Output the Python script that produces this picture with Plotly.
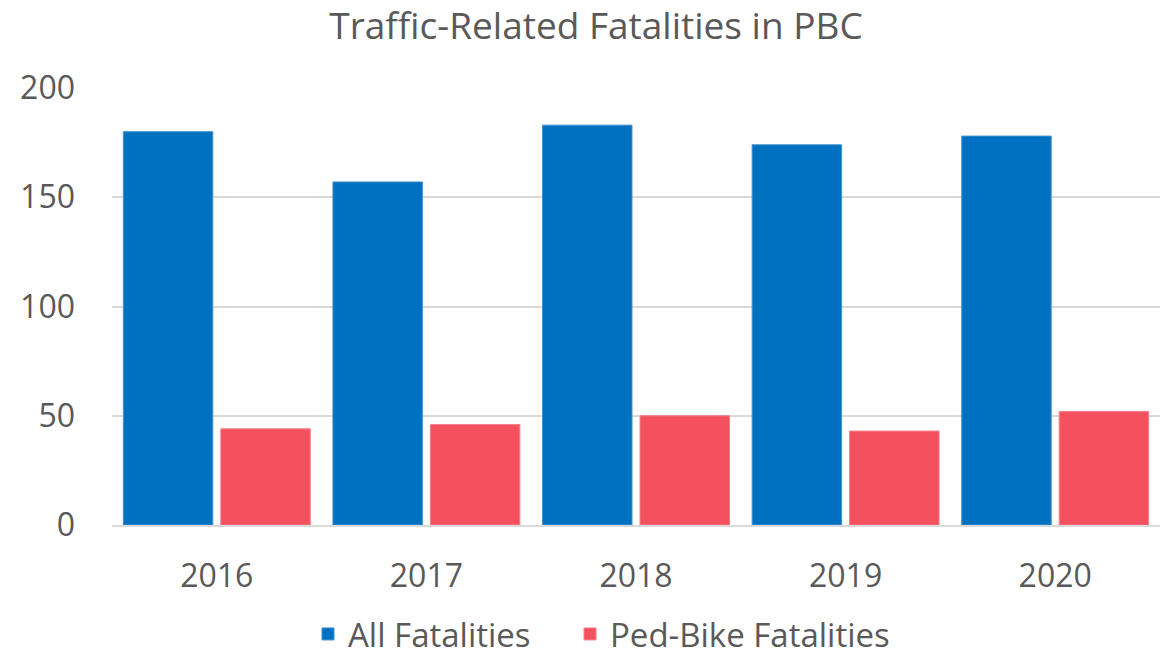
import plotly.graph_objects as go

years = ["2016", "2017", "2018", "2019", "2020"]
all_fatalities = [180, 157, 183, 174, 178]
ped_bike_fatalities = [44, 46, 50, 43, 52]

FONT = "Open Sans"
GREY = "#595959"

fig = go.Figure()
fig.add_trace(go.Bar(x=years, y=all_fatalities, name="All Fatalities", legend="legend",
                     showlegend=True,
                     marker=dict(color="#0070C0", line=dict(color="#3f93d0", width=1))))
fig.add_trace(go.Bar(x=years, y=ped_bike_fatalities, name="Ped-Bike Fatalities", legend="legend2",
                     showlegend=True,
                     marker=dict(color="#F4505E", line=dict(color="#f67f89", width=1))))

legend_common = dict(orientation="h", xref="container", xanchor="left",
                     y=1-634/657, yref="container", yanchor="middle",
                     font=dict(size=33, color=GREY, family=FONT), itemwidth=30,
                     bgcolor="rgba(0,0,0,0)", visible=True)

fig.update_layout(
    width=1168, height=657, showlegend=True,
    margin=dict(l=112, r=8, t=88, b=132, autoexpand=False),
    paper_bgcolor="white", plot_bgcolor="white",
    font=dict(family=FONT, color=GREY, size=32),
    title=dict(text="Traffic-Related Fatalities in PBC", x=596/1168, xanchor="center",
               y=1-26/657, yanchor="middle", font=dict(size=37, color=GREY, family=FONT)),
    barmode="group", bargap=0.07, bargroupgap=0.082,
    legend=dict(x=308/1168, **legend_common),
    legend2=dict(x=570/1168, **legend_common),
    xaxis=dict(showgrid=False, showline=True, linecolor="#D9D9D9", linewidth=2,
               ticks="", tickfont=dict(size=32, color=GREY), ticklabelstandoff=22,
               automargin=False),
    yaxis=dict(range=[0, 200], dtick=50, showgrid=True, gridcolor="#D9D9D9", gridwidth=2,
               zeroline=False, showline=False, ticks="",
               tickfont=dict(size=32, color=GREY), ticklabelstandoff=36,
               automargin=False),
)

fig.write_html("out.html", config={"displayModeBar": False},
               post_script="document.body.style.margin='0';document.body.style.overflow='hidden';")
